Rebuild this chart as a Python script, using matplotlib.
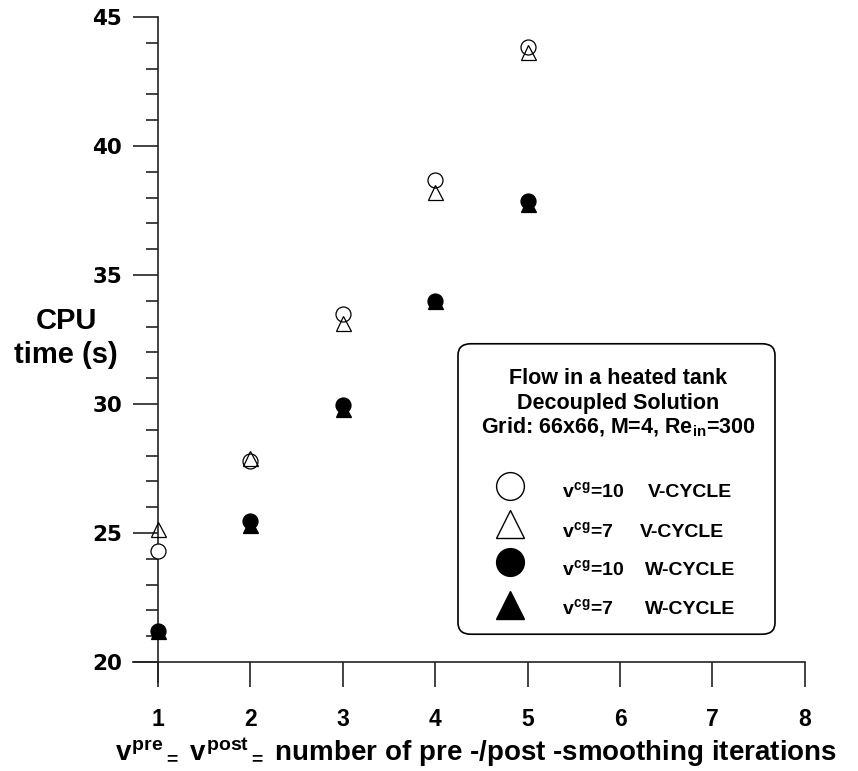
import matplotlib
matplotlib.use("Agg")
import matplotlib.pyplot as plt
from matplotlib.lines import Line2D
from matplotlib.patches import FancyBboxPatch
from matplotlib.ticker import MultipleLocator

plt.rcParams['mathtext.fontset'] = 'custom'
plt.rcParams['mathtext.rm'] = 'Liberation Sans:bold'
plt.rcParams['mathtext.bf'] = 'Liberation Sans:bold'
plt.rcParams['mathtext.it'] = 'Liberation Sans:bold'
plt.rcParams['mathtext.sf'] = 'Liberation Sans:bold'

# ---- data ----
smoothing = [1, 2, 3, 4, 5]
v10_vcycle = [24.3, 27.8, 33.5, 38.7, 43.85]
v7_vcycle = [25.15, 27.9, 33.15, 38.2, 43.65]
v10_wcycle = [21.2, 25.45, 29.95, 34.0, 37.85]
v7_wcycle = [21.2, 25.3, 29.8, 34.0, 37.75]
x_ticks = [1, 2, 3, 4, 5, 6, 7, 8]
y_ticks = [20, 25, 30, 35, 40, 45]
nu_labels = [r"$v^{cg}$=10", r"$v^{cg}$=7", r"$v^{cg}$=10", r"$v^{cg}$=7"]
cycle_labels = ["V-CYCLE", "V-CYCLE", "W-CYCLE", "W-CYCLE"]
title_lines = ["Flow in a heated tank", "Decoupled Solution",
               r"Grid: 66x66, M=4, Re$_{in}$=300"]

W, H = 858, 771
fig = plt.figure(figsize=(W / 100, H / 100), dpi=100)

def fx(x):
    return x / W

def fy(y):
    return 1 - y / H

ax = fig.add_axes([fx(133), fy(682), fx(805) - fx(133), fy(17) - fy(682)])
ax.set_xlim(0.7294, 8.002)
ax.set_ylim(19.225, 45)

for s in ['top', 'right']:
    ax.spines[s].set_visible(False)
ax.spines['left'].set_position(('data', 1))
ax.spines['bottom'].set_position(('data', 20))
for s in ['left', 'bottom']:
    ax.spines[s].set_linewidth(1.2)
    ax.spines[s].set_color('#222222')

ax.set_xticks(x_ticks)
ax.set_yticks(y_ticks)
ax.yaxis.set_minor_locator(MultipleLocator(1))
ax.tick_params(axis='x', direction='out', length=18, width=1.2, pad=15, color='#222222')
ax.tick_params(axis='y', which='major', direction='out', length=18, width=1.2, pad=8, color='#222222')
ax.tick_params(axis='y', which='minor', direction='out', length=9, width=1.2, color='#222222')
for lbl in ax.get_xticklabels():
    lbl.set_fontfamily('Liberation Sans')
    lbl.set_fontweight('bold')
    lbl.set_fontsize(16.5)
for lbl in ax.get_yticklabels():
    lbl.set_fontfamily('DejaVu Sans')
    lbl.set_fontweight('bold')
    lbl.set_fontsize(15.5)

ms = 10.8
ax.plot(smoothing, v10_vcycle, 'o', ms=ms, mfc='white', mec='black', mew=0.9, clip_on=False, zorder=3)
ax.plot(smoothing, v7_vcycle, '^', ms=ms, mfc='none', mec='black', mew=0.9, clip_on=False, zorder=4)
ax.plot(smoothing, v10_wcycle, 'o', ms=ms, mfc='black', mec='black', mew=0.9, clip_on=False, zorder=3)
ax.plot(smoothing, v7_wcycle, '^', ms=ms, mfc='black', mec='black', mew=0.9, clip_on=False, zorder=4)

# y label
fig.text(fx(66), fy(321), "CPU", ha='center', va='center', family='Liberation Sans',
         fontweight='bold', fontsize=21)
fig.text(fx(66), fy(355), "time (s)", ha='center', va='center', family='Liberation Sans',
         fontweight='bold', fontsize=21)

# x label
fig.text(fx(476), fy(761),
         r"$v^{pre}{}_{=}$ $v^{post}{}_{=}$ number of pre -/post -smoothing iterations",
         ha='center', va='baseline', family='Liberation Sans', fontweight='bold', fontsize=20)

# legend box
box = FancyBboxPatch((fx(458) + 0.012, fy(635) + 0.013),
                     fx(775) - fx(458) - 0.024, fy(343) - fy(635) - 0.026,
                     boxstyle="round,pad=0.012,rounding_size=0.015",
                     transform=fig.transFigure, facecolor='white', edgecolor='black',
                     linewidth=1.2, zorder=5)
fig.add_artist(box)

for i, line in enumerate(title_lines):
    fig.text(fx(618), fy(379 + 24 * i), line, ha='center', va='center',
             family='Liberation Sans', fontweight='bold', fontsize=15.5, zorder=6)

marker_rows = [486, 524, 562, 605]
text_rows = [497, 537, 575, 614]
styles = [('o', 'white'), ('^', 'white'), ('o', 'black'), ('^', 'black')]
cycle_x = [648, 640, 645, 645]
for i in range(4):
    m, fc = styles[i]
    fig.add_artist(Line2D([fx(510)], [fy(marker_rows[i])], marker=m, ms=20,
                          mfc=fc, mec='black', mew=1.0, transform=fig.transFigure,
                          zorder=7, linestyle='none'))
    fig.text(fx(562), fy(text_rows[i]), nu_labels[i], ha='left', va='baseline',
             family='Liberation Sans', fontweight='bold', fontsize=14, zorder=7)
    fig.text(fx(cycle_x[i]), fy(text_rows[i]), cycle_labels[i], ha='left', va='baseline',
             family='Liberation Sans', fontweight='bold', fontsize=14, zorder=7)

fig.savefig("out.png", dpi=100)
